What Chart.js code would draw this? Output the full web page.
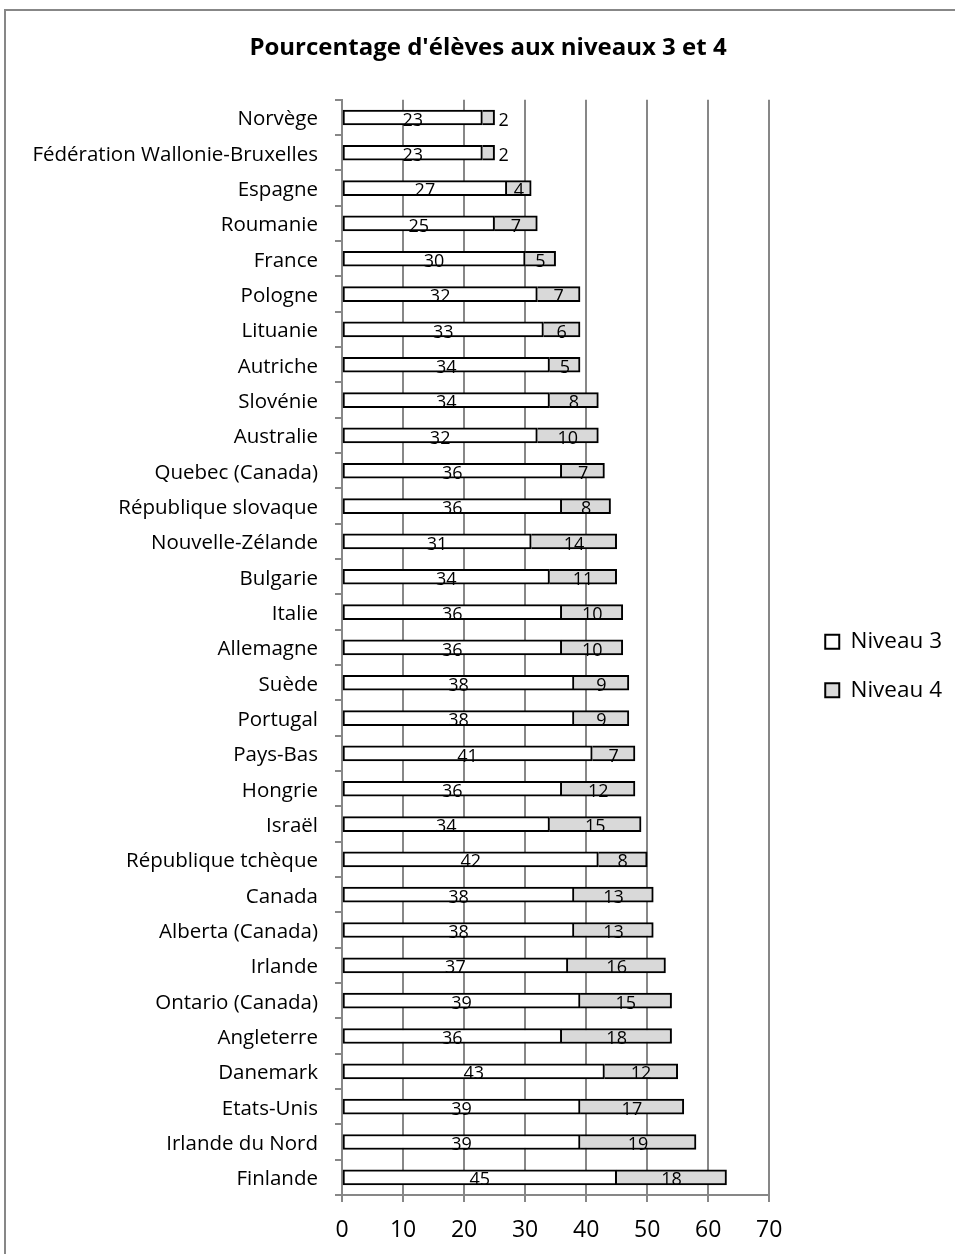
<!DOCTYPE html>
<html lang="fr">
<head>
<meta charset="utf-8">
<title>Pourcentage d'élèves aux niveaux 3 et 4</title>
<script src="https://cdn.jsdelivr.net/npm/chart.js@4/dist/chart.umd.min.js"></script>
<style>
  html, body { margin: 0; padding: 0; background: #fff; overflow: hidden; }
  #frame { position: absolute; left: 4px; top: 9px; width: 1000px; height: 1300px;
           border: 2px solid #878787; box-sizing: border-box; }
  #wrap { position: absolute; left: 0; top: 0; width: 955px; height: 1254px; }
</style>
</head>
<body>
<div id="frame"></div>
<div id="wrap"><canvas id="c" width="955" height="1254"></canvas></div>
<script>
// Countries / regions, top to bottom
const categories = [
  'Norvège', 'Fédération Wallonie-Bruxelles', 'Espagne', 'Roumanie', 'France',
  'Pologne', 'Lituanie', 'Autriche', 'Slovénie', 'Australie',
  'Quebec (Canada)', 'République slovaque', 'Nouvelle-Zélande', 'Bulgarie', 'Italie',
  'Allemagne', 'Suède', 'Portugal', 'Pays-Bas', 'Hongrie',
  'Israël', 'République tchèque', 'Canada', 'Alberta (Canada)', 'Irlande',
  'Ontario (Canada)', 'Angleterre', 'Danemark', 'Etats-Unis', 'Irlande du Nord',
  'Finlande'
];

// Percentage of pupils at level 3
const niveau3 = [
  23, 23, 27, 25, 30,
  32, 33, 34, 34, 32,
  36, 36, 31, 34, 36,
  36, 38, 38, 41, 36,
  34, 42, 38, 38, 37,
  39, 36, 43, 39, 39,
  45
];

// Percentage of pupils at level 4
const niveau4 = [
  2, 2, 4, 7, 5,
  7, 6, 5, 8, 10,
  7, 8, 14, 11, 10,
  10, 9, 9, 7, 12,
  15, 8, 13, 13, 16,
  15, 18, 12, 17, 19,
  18
];

const seriesNames = ['Niveau 3', 'Niveau 4'];
const xTickValues = [0, 10, 20, 30, 40, 50, 60, 70];

const FONT = '"Open Sans", "Noto Sans", sans-serif';
const GRID = '#878787';

// Value labels written inside each stacked segment (or just after the bar when the segment is too narrow)
const segmentLabels = {
  id: 'segmentLabels',
  afterDatasetsDraw(chart) {
    const ctx = chart.ctx;
    ctx.save();
    ctx.font = '18px ' + FONT;
    ctx.fillStyle = '#000';
    ctx.textBaseline = 'middle';
    chart.data.datasets.forEach((ds, i) => {
      const meta = chart.getDatasetMeta(i);
      meta.data.forEach((bar, j) => {
        const txt = String(ds.data[j]);
        const w = ctx.measureText(txt).width;
        const left = Math.min(bar.base, bar.x);
        const right = Math.max(bar.base, bar.x);
        if (right - left < w + 4) {
          ctx.textAlign = 'left';
          ctx.fillText(txt, right + 4, bar.y + 3);
        } else {
          ctx.textAlign = 'center';
          ctx.fillText(txt, (left + right) / 2, bar.y + 3);
        }
      });
    });
    ctx.restore();
  }
};

// Empty layout box that keeps some room between the plot and the legend
const legendGap = {
  id: 'legendGap',
  beforeInit(chart) {
    if (!Chart.layouts) return;
    Chart.layouts.addBox(chart, {
      position: 'right', weight: 500, fullSize: false, options: {},
      left: 0, top: 0, right: 0, bottom: 0, width: 30, height: 0,
      isHorizontal() { return false; },
      update(maxWidth, maxHeight) { this.width = 30; this.height = maxHeight; },
      draw() {}
    });
  }
};

new Chart(document.getElementById('c'), {
  type: 'bar',
  data: {
    labels: categories,
    datasets: [
      {
        label: seriesNames[0],
        data: niveau3,
        backgroundColor: '#ffffff',
        borderColor: '#000000',
        borderWidth: 2,
        borderSkipped: false,
        barThickness: 15
      },
      {
        label: seriesNames[1],
        data: niveau4,
        backgroundColor: '#d9d9d9',
        borderColor: '#000000',
        borderWidth: 2,
        borderSkipped: 'start',
        barThickness: 15
      }
    ]
  },
  options: {
    indexAxis: 'y',
    responsive: false,
    animation: false,
    devicePixelRatio: 1,
    layout: { padding: { left: 24, right: 3, top: 10, bottom: 0 } },
    scales: {
      x: {
        stacked: true,
        min: 0,
        max: 70,
        afterFit(scale) { scale.height = 59; },
        afterBuildTicks(scale) { scale.ticks = xTickValues.map(v => ({ value: v })); },
        grid: { color: GRID, lineWidth: 2, tickLength: 7, drawTicks: true },
        border: { color: GRID, width: 2 },
        ticks: { color: '#000', padding: 15, font: { family: FONT, size: 23 } }
      },
      y: {
        stacked: true,
        afterFit(scale) { scale.width = 318; },
        grid: { drawOnChartArea: false, color: GRID, lineWidth: 2, tickLength: 7, offset: true },
        border: { color: GRID, width: 2 },
        ticks: { color: '#000', padding: 17, labelOffset: 2, autoSkip: false, font: { family: FONT, size: 20.5 } }
      }
    },
    plugins: {
      title: {
        display: true,
        text: "Pourcentage d'élèves aux niveaux 3 et 4",
        color: '#000',
        font: { family: FONT, size: 24, weight: 'bold' },
        padding: { top: 24, bottom: 37 }
      },
      legend: {
        position: 'right',
        align: 'center',
        fullSize: false,
        title: { display: true, text: '', padding: { top: 36, bottom: 0 }, font: { size: 1 } },
        labels: {
          color: '#000',
          boxWidth: 14,
          boxHeight: 14,
          padding: 26,
          font: { family: FONT, size: 22.5 }
        }
      },
      tooltip: { enabled: false }
    }
  },
  plugins: [segmentLabels, legendGap]
});
</script>
</body>
</html>
